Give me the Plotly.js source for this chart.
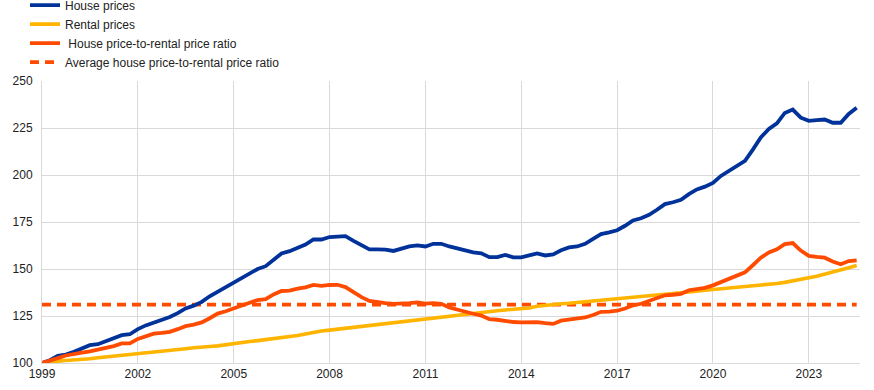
<!DOCTYPE html>
<html>
<head>
<meta charset="utf-8">
<script src="https://cdn.plot.ly/plotly-3.0.1.min.js"></script>
<style>html,body{margin:0;padding:0;background:#fff;}#chart{width:874px;height:390px;}</style>
</head>
<body>
<div id="chart"></div>
<script>
// Quarterly observations, 1999 Q1 to 2024 Q3 (index, 1999 Q1 = 100)
const startYear = 1999;
const nQuarters = 103;

const housePrices = [
  100, 101.5, 103.8, 104.5,   // 1999
  106, 107.5, 109.5, 110,     // 2000
  111.5, 113, 114.8, 115.3,   // 2001
  118, 120, 121.5, 122.5,     // 2002
  124.5, 126.5, 129, 130.5,   // 2003
  132.5, 135.5, 138, 140,     // 2004
  142.5, 145, 148, 150,       // 2005
  151.5, 155, 158.3, 159.5,   // 2006
  161, 163, 165.7, 165.7,     // 2007
  167, 167.5, 167.5, 165,     // 2008
  162.5, 160.4, 160.4, 160.3, // 2009
  159.6, 161, 162, 162.6,     // 2010
  162, 163.4, 163.4, 162,     // 2011
  160.8, 160, 158.8, 158.3,   // 2012
  156.3, 156.3, 157.5, 156.2, // 2013
  156.2, 157.2, 158.3, 157.2, // 2014
  157.8, 160, 161.5, 162,     // 2015
  163.4, 166, 168.6, 169.5,   // 2016
  170.6, 173, 175.8, 177,     // 2017
  178.8, 181.5, 184.5, 185.5, // 2018
  186.8, 189.8, 192.3, 193.8, // 2019
  195.8, 199.5, 202, 205,     // 2020
  207.5, 213.5, 220, 224.5,   // 2021
  227.5, 233, 234.8, 230.5,   // 2022
  228.8, 229.2, 229.5, 227.8, // 2023
  227.8, 232.5, 235.8         // 2024
];

const rentalPrices = [
  100, 100.6, 101, 101.3,
  101.5, 101.8, 102.3, 102.8,
  103.2, 103.6, 104, 104.4,
  104.8, 105.3, 105.8, 106.3,
  106.8, 107.2, 107.6, 108.1,
  108.6, 108.8, 109.1, 109.8,
  110.4, 110.9, 111.4, 111.9,
  112.4, 112.9, 113.5, 114,
  114.6, 115.4, 116.4, 117,
  117.5, 118, 118.6, 119.1,
  119.6, 120, 120.6, 121.2,
  121.5, 122, 122.5, 123,
  123.5, 124, 124.5, 125,
  125.6, 126, 126.5, 127,
  127.4, 127.8, 128.2, 128.5,
  128.8, 129.3, 130.2, 130.8,
  131.1, 131.5, 131.8, 132.2,
  132.6, 133, 133.3, 133.6,
  134, 134.3, 134.6, 135,
  135.4, 135.8, 136.3, 136.8,
  137.2, 137.7, 138.2, 138.7,
  139.1, 139.4, 139.7, 140,
  140.3, 140.8, 141.3, 141.8,
  142.3, 142.9, 143.6, 144.4,
  145.3, 146.2, 147.2, 148.3,
  149.5, 150.7, 151.9
];

const priceToRentRatio = [
  100, 101.5, 102.6, 104,
  105, 105.5, 106.2, 107,
  108, 109, 110.4, 110.4,
  112.8, 114.3, 115.6, 116,
  116.6, 118, 119.6, 120.4,
  121.6, 123.8, 126.3, 127.5,
  129, 130.5, 132.3, 133.5,
  134, 136.5, 138.3, 138.5,
  139.6, 140.2, 141.5, 141,
  141.5, 141.6, 140.4, 137.5,
  135, 133, 132.2, 131.8,
  131.5, 131.5, 131.9, 132.2,
  131.6, 131.8, 131.5, 129.5,
  128.3, 127, 126.2, 125.2,
  123.3, 123, 122.3, 121.8,
  121.6, 121.8, 121.7, 121.2,
  120.8, 122.5, 123, 123.5,
  124.2, 125.5, 127.2, 127.3,
  127.8, 129, 130.7, 131.5,
  133, 134.5, 136, 136.3,
  136.8, 138.7, 139.3, 140,
  141.3, 143, 144.8, 146.6,
  148.2, 152, 156, 158.8,
  160.5, 163.2, 163.8, 159.8,
  157, 156.4, 156, 154,
  152.5, 154.2, 154.6
];

const averageRatio = 131.1;

const seriesNames = [
  "House prices",
  "Rental prices",
  " House price-to-rental price ratio",
  "Average house price-to-rental price ratio"
];
const yTicks = [100, 125, 150, 175, 200, 225, 250];

// quarter dates
const dates = [];
for (let i = 0; i < nQuarters; i++) {
  const y = startYear + Math.floor(i / 4);
  const m = (i % 4) * 3 + 1;
  dates.push(y + "-" + String(m).padStart(2, "0") + "-01");
}
const avgX = [dates[0], dates[dates.length - 1]];
const avgY = [averageRatio, averageRatio];

const FONT = "Arial, 'Liberation Sans', sans-serif";

const traces = [
  {x: dates, y: housePrices, name: seriesNames[0], type: "scatter", mode: "lines",
   line: {color: "#003299", width: 3.8}},
  {x: dates, y: rentalPrices, name: seriesNames[1], type: "scatter", mode: "lines",
   line: {color: "#FFB400", width: 3.6}},
  {x: dates, y: priceToRentRatio, name: seriesNames[2], type: "scatter", mode: "lines",
   line: {color: "#FF4B00", width: 3.8}},
  {x: avgX, y: avgY, name: seriesNames[3], type: "scatter", mode: "lines",
   line: {color: "#FF4B00", width: 3.8, dash: "9px,6px"}}
];
const ordered = [traces[3], traces[1], traces[0], traces[2]];
ordered.forEach(t => t.legendrank = seriesNames.indexOf(t.name) + 1);

const layout = {
  width: 874, height: 390,
  margin: {l: 42, r: 14, t: 81, b: 27, pad: 0, autoexpand: false},
  paper_bgcolor: "#fff", plot_bgcolor: "#fff",
  font: {family: FONT, size: 12, color: "#222"},
  showlegend: true,
  legend: {
    x: -0.0208, y: 1.3206, xref: "paper", yref: "paper",
    xanchor: "left", yanchor: "top",
    font: {family: FONT, size: 12, color: "#222"},
    traceorder: "normal", tracegroupgap: 0, itemwidth: 30,
    bgcolor: "rgba(0,0,0,0)"
  },
  xaxis: {
    type: "date",
    range: ["1999-01-01", "2024-08-08"],
    tick0: "1999-01-01", dtick: "M36", tickformat: "%Y",
    showgrid: true, gridcolor: "#d9d9d9", gridwidth: 1,
    showline: true, linecolor: "#d9d9d9", linewidth: 1,
    ticks: "", zeroline: false,
    tickfont: {family: FONT, size: 12, color: "#222"}
  },
  yaxis: {
    range: [100, 250],
    tickvals: yTicks,
    showgrid: true, gridcolor: "#d9d9d9", gridwidth: 1,
    showline: true, linecolor: "#d9d9d9", linewidth: 1,
    ticks: "", zeroline: false, ticklabelstandoff: 6,
    tickfont: {family: FONT, size: 12, color: "#222"}
  }
};

Plotly.newPlot("chart", ordered, layout, {displayModeBar: false, staticPlot: true});
</script>
</body>
</html>
